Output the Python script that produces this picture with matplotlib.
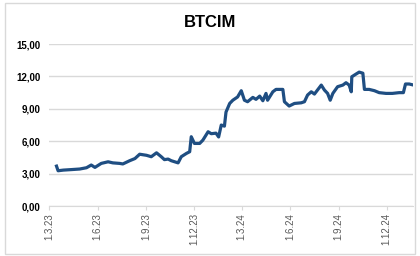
import matplotlib
matplotlib.use('Agg')
import matplotlib.pyplot as plt
import matplotlib.dates as mdates
from matplotlib.ticker import FuncFormatter
from matplotlib.patches import Rectangle
import pandas as pd

plt.rcParams['font.family'] = ['Liberation Sans', 'DejaVu Sans']

title = 'BTCIM'
dates = ['2023-03-15', '2023-03-18', '2023-03-28', '2023-04-13', '2023-04-28', '2023-05-11',
         '2023-05-20', '2023-05-27', '2023-06-08', '2023-06-21', '2023-06-30', '2023-07-13',
         '2023-07-19', '2023-08-01', '2023-08-11', '2023-08-20', '2023-09-02', '2023-09-11',
         '2023-09-21', '2023-09-30', '2023-10-06', '2023-10-13', '2023-10-19', '2023-11-01',
         '2023-11-07', '2023-11-17', '2023-11-23', '2023-11-26', '2023-12-02', '2023-12-12',
         '2023-12-18', '2023-12-28', '2024-01-03', '2024-01-12', '2024-01-17', '2024-01-22',
         '2024-01-28', '2024-01-31', '2024-02-07', '2024-02-13', '2024-02-22', '2024-02-29',
         '2024-03-06', '2024-03-12', '2024-03-22', '2024-03-28', '2024-04-04', '2024-04-10',
         '2024-04-16', '2024-04-19', '2024-04-29', '2024-05-05', '2024-05-18', '2024-05-21',
         '2024-05-30', '2024-06-09', '2024-06-22', '2024-06-28', '2024-07-04', '2024-07-11',
         '2024-07-17', '2024-07-30', '2024-08-05', '2024-08-11', '2024-08-16', '2024-08-21',
         '2024-08-30', '2024-09-09', '2024-09-15', '2024-09-21', '2024-09-25', '2024-09-26',
         '2024-10-04', '2024-10-10', '2024-10-17', '2024-10-20', '2024-10-29', '2024-11-08',
         '2024-11-17', '2024-11-30', '2024-12-12', '2024-12-25', '2025-01-02', '2025-01-06',
         '2025-01-13', '2025-01-19']
values = [3.70, 3.27, 3.33, 3.38, 3.43, 3.55,
          3.80, 3.58, 3.95, 4.10, 4.00, 3.95,
          3.90, 4.20, 4.40, 4.80, 4.70, 4.57,
          4.93, 4.57, 4.30, 4.35, 4.20, 4.00,
          4.57, 4.88, 5.03, 6.42, 5.80, 5.80,
          6.10, 6.88, 6.70, 6.75, 6.40, 7.50,
          7.40, 8.70, 9.50, 9.80, 10.10, 10.68,
          9.80, 9.66, 10.06, 9.88, 10.18, 9.75,
          10.43, 9.80, 10.58, 10.80, 10.80, 9.66,
          9.26, 9.50, 9.56, 9.66, 10.28, 10.58,
          10.37, 11.20, 10.74, 10.43, 9.80, 10.43,
          11.05, 11.20, 11.42, 11.20, 10.58, 11.97,
          12.22, 12.40, 12.30, 10.80, 10.80, 10.68,
          10.50, 10.43, 10.43, 10.50, 10.50, 11.30,
          11.30, 11.23]
tick_dates = ['2023-03-01', '2023-06-01', '2023-09-01', '2023-12-01',
              '2024-03-01', '2024-06-01', '2024-09-01', '2024-12-01']
y_ticks = [0, 3, 6, 9, 12, 15]

x = pd.to_datetime(dates)
ticks = pd.to_datetime(tick_dates)

fig = plt.figure(figsize=(4.2, 2.56), dpi=100)
fig.patches.append(Rectangle((0.012, 0.008), 0.976, 0.982, transform=fig.transFigure,
                             fill=False, edgecolor='#d9d9d9', linewidth=1))
ax = fig.add_axes([0.117, 0.195, 0.866, 0.633])

ax.plot(x, values, color='#1f4e82', linewidth=2.3, solid_joinstyle='round')

ax.set_ylim(0, 15)
ax.set_xlim(pd.Timestamp('2023-03-01'), pd.Timestamp('2025-01-20'))
ax.set_yticks(y_ticks)
ax.yaxis.set_major_formatter(FuncFormatter(lambda v, p: f'{v:.2f}'.replace('.', ',')))
ax.set_xticks(ticks)
ax.set_xticklabels([f'{d.day}.{d.month}.{d.strftime("%y")}' for d in ticks],
                   rotation=90, fontsize=7, color='#595959')
for lbl in ax.get_yticklabels():
    lbl.set_fontweight('bold')
    lbl.set_fontsize(7)

ax.grid(axis='y', color='#d9d9d9', linewidth=1)
ax.set_axisbelow(True)
for s in ['top', 'right', 'left']:
    ax.spines[s].set_visible(False)
ax.spines['bottom'].set_color('#d9d9d9')
ax.tick_params(axis='y', length=0, pad=6)
ax.tick_params(axis='x', length=3, color='#d9d9d9', pad=2)

fig.text(0.5, 0.912, title, ha='center', va='center', fontsize=12, fontweight='bold')

fig.savefig('out.png', dpi=100)
